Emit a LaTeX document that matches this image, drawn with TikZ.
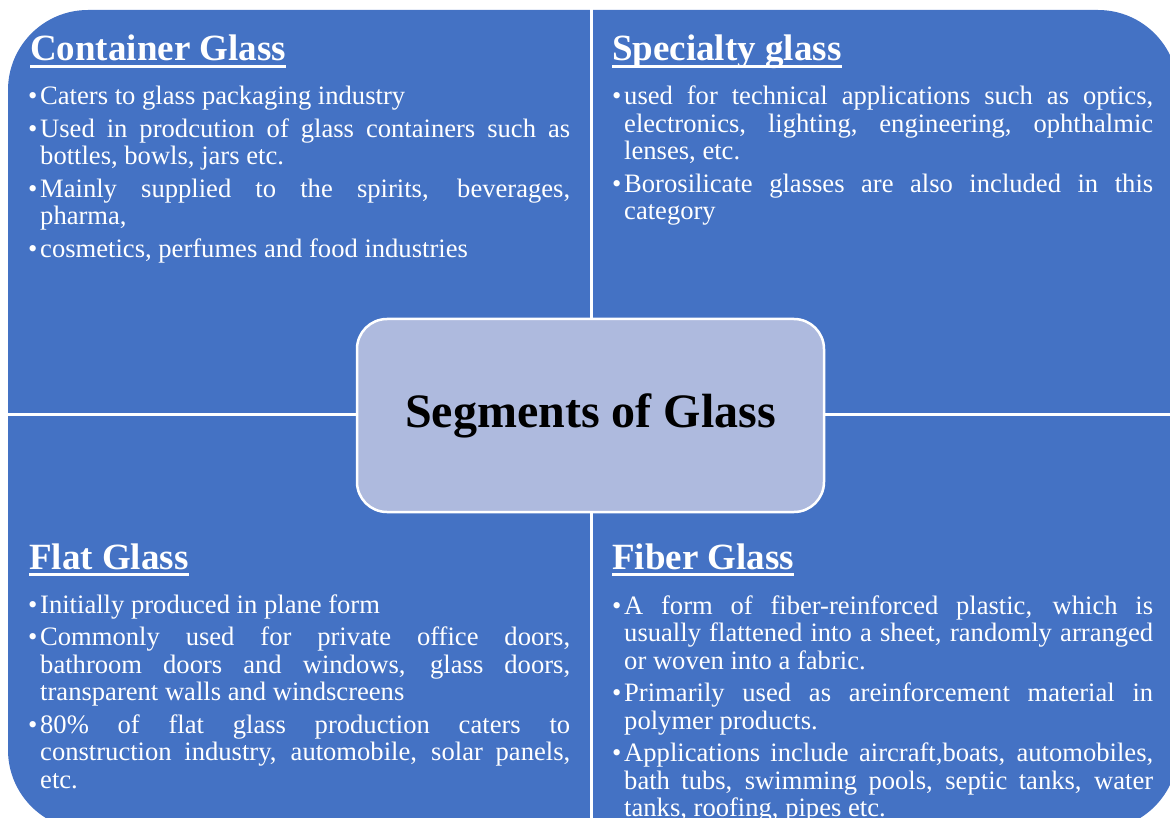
\documentclass[tikz,border=0pt]{standalone}
\usepackage{fontspec}
\setmainfont{Liberation Serif}
\definecolor{qblue}{HTML}{4472C4}
\definecolor{cfill}{HTML}{AEBADE}
\newcommand{\bodyfont}{\fontsize{26.6}{27.5}\selectfont\setlength{\parskip}{5pt}\hyphenpenalty=10000 \tolerance=10000 \emergencystretch=0pt }
\newcommand{\bitem}[1]{\hangindent=12pt\hangafter=1 \makebox[12pt][l]{\textbullet}#1\par}
\tikzset{
  body/.style={text=white, inner sep=0pt, text width=542pt, align=justify, anchor=base west, font=\bodyfont},
  head/.style={text=white, inner sep=0pt, anchor=base west, font=\fontsize{37}{40}\selectfont\bfseries},
  uline/.style={white, line width=2.5pt},
  divider/.style={white, line width=3pt},
  centerbox/.style={fill=cfill, draw=white, line width=2.5pt, rounded corners=30pt, minimum width=467pt, minimum height=193pt, inner sep=0pt, text=black, font=\fontsize{48}{52}\selectfont\bfseries}
}
\begin{document}
\begin{tikzpicture}[x=1pt,y=-1pt]
\useasboundingbox (0,0) rectangle (1170,818);
\begin{scope}
  \clip (0,0) rectangle (1170,818);
  \fill[qblue, rounded corners=80pt] (8,10) rectangle (1178,830);
  \draw[divider] (591,0) -- (591,840);
  \draw[divider] (0,414) -- (1190,414);
\end{scope}
\node[centerbox] (c) at (590.5,415.5) {Segments of Glass};

\node[head] (h1) at (30,61) {Container Glass};
\draw[uline] ([yshift=-5.5pt]h1.base west) -- ([yshift=-5.5pt]h1.base east);
\node[head] (h2) at (612,61) {Specialty glass};
\draw[uline] ([yshift=-5.5pt]h2.base west) -- ([yshift=-5.5pt]h2.base east);
\node[head] (h3) at (29,569) {Flat Glass};
\draw[uline] ([yshift=-5.5pt]h3.base west) -- ([yshift=-5.5pt]h3.base east);
\node[head] (h4) at (612,569) {Fiber Glass};
\draw[uline] ([yshift=-5.5pt]h4.base west) -- ([yshift=-5.5pt]h4.base east);

\node[body] (b1) at (28,105) {%
\bitem{Caters to glass packaging industry}%
\bitem{Used in prodcution of glass containers such as\linebreak bottles, bowls, jars etc.}%
\bitem{Mainly supplied to the spirits, beverages,\linebreak pharma,}%
\bitem{cosmetics, perfumes and food industries}};

\node[body, text width=541pt] (b2) at (612,105) {%
\bitem{used for technical applications such as optics,\linebreak electronics, lighting, engineering, ophthalmic\linebreak lenses, etc.}%
\bitem{Borosilicate glasses are also included in this\linebreak category}};

\node[body] (b3) at (28,613) {%
\bitem{Initially produced in plane form}%
\bitem{Commonly used for private office doors,\linebreak bathroom doors and windows, glass doors,\linebreak transparent walls and windscreens}%
\bitem{80\% of flat glass production caters to\linebreak construction industry, automobile, solar panels,\linebreak etc.}};

\node[body, text width=541pt] (b4) at (612,614) {%
\bitem{A form of fiber-reinforced plastic, which is\linebreak usually flattened into a sheet, randomly arranged\linebreak or woven into a fabric.}%
\bitem{Primarily used as areinforcement material in\linebreak polymer products.}%
\bitem{Applications include aircraft,boats, automobiles,\linebreak bath tubs, swimming pools, septic tanks, water\linebreak tanks, roofing, pipes etc.}};
\end{tikzpicture}
\end{document}
